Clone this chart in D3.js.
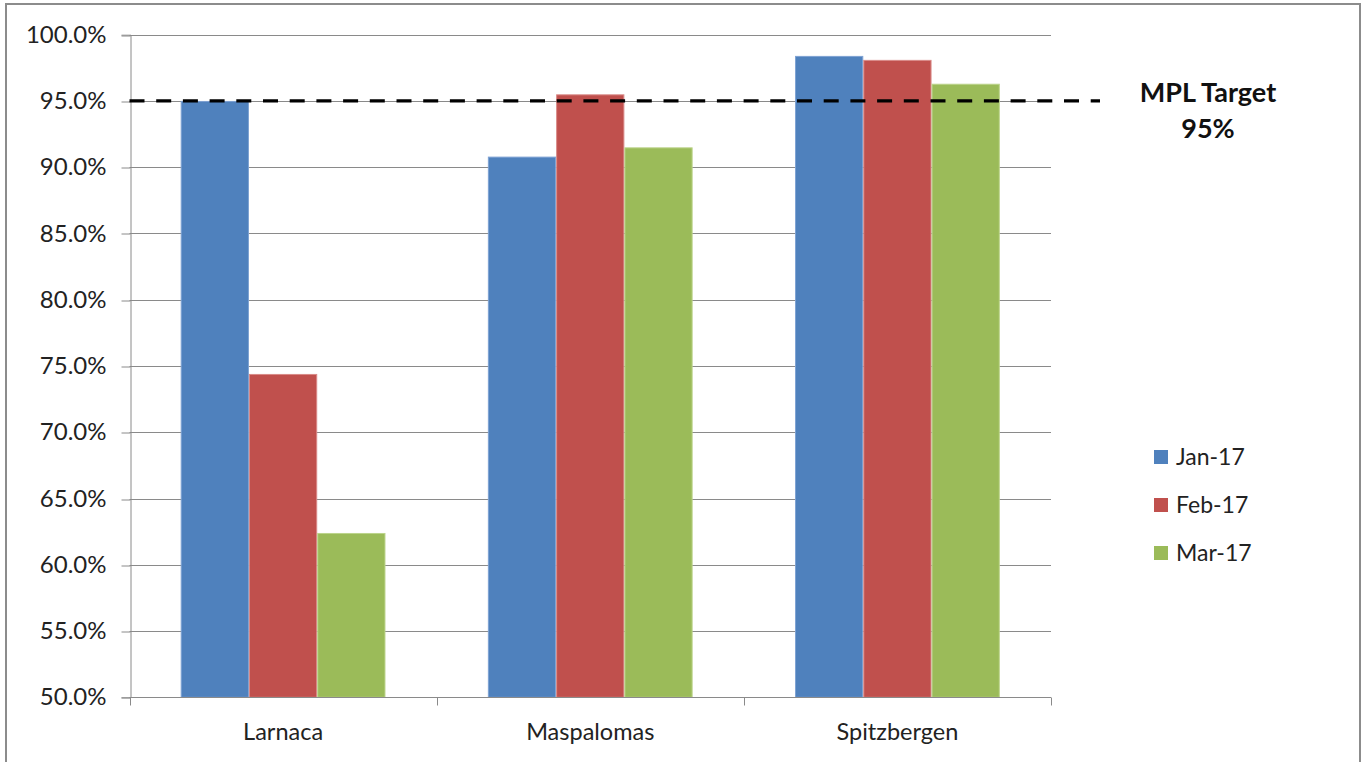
<!DOCTYPE html>
<html>
<head>
<meta charset="utf-8">
<script src="https://cdn.jsdelivr.net/npm/d3@7"></script>
<style>
  html, body { margin: 0; padding: 0; background: #fff; }
  svg { display: block; font-family: Lato, "Open Sans", sans-serif; }
</style>
</head>
<body>
<svg id="chart" width="1368" height="762"></svg>
<script>
// Availability per station, by month
const stations = ["Larnaca", "Maspalomas", "Spitzbergen"];
const months = ["Jan-17", "Feb-17", "Mar-17"];
const jan17 = [95.0, 90.8, 98.4];
const feb17 = [74.4, 95.5, 98.1];
const mar17 = [62.4, 91.5, 96.3];
const yTicks = [50, 55, 60, 65, 70, 75, 80, 85, 90, 95, 100];
const targetValue = 95;
const targetLabel = ["MPL Target", "95%"];

const colors = ["#4F81BD", "#C0504D", "#9BBB59"];
const edges = ["#7EA2D3", "#D98A88", "#BCD48B"];
const seriesValues = [jan17, feb17, mar17];

const svg = d3.select("#chart");

// outer frame
svg.append("rect")
  .attr("x", 6).attr("y", 4).attr("width", 1354).attr("height", 770)
  .attr("fill", "#fff").attr("stroke", "#8c8c8c").attr("stroke-width", 2);

const plot = { left: 129.5, right: 1051, top: 34.7, bottom: 697.3 };

const y = d3.scaleLinear().domain([50, 100]).range([plot.bottom, plot.top]);
const x0 = d3.scaleBand().domain(stations).range([plot.left, plot.right]).paddingInner(0).paddingOuter(0);
// Excel gap width 150% -> bar = band / (3 + 1.5)
const groupInner = x0.bandwidth() * 3 / 4.5;
const x1 = d3.scaleBand().domain(months)
  .range([(x0.bandwidth() - groupInner) / 2, (x0.bandwidth() + groupInner) / 2]);

// horizontal gridlines
svg.append("g").selectAll("line").data(yTicks.filter(t => t > 50)).join("line")
  .attr("x1", plot.left).attr("x2", plot.right)
  .attr("y1", d => Math.round(y(d)) + 0.5).attr("y2", d => Math.round(y(d)) + 0.5)
  .attr("stroke", "#8a8a8a").attr("stroke-width", 1);

// y axis
const yAxis = d3.axisLeft(y).tickValues(yTicks).tickSize(9).tickPadding(15)
  .tickFormat(d => d.toFixed(1) + "%");
const gy = svg.append("g").attr("transform", `translate(${Math.round(plot.left) + 0.5},0)`).call(yAxis);
gy.select(".domain").attr("stroke", "#8a8a8a");
gy.selectAll(".tick line").attr("stroke", "#8a8a8a")
  .attr("transform", d => `translate(0,${Math.round(y(d)) + 0.5 - y(d)})`);
gy.selectAll(".tick text").attr("font-size", 24).attr("fill", "#222")
  .attr("font-family", "Lato, 'Open Sans', sans-serif");

// bars
const groups = svg.append("g").selectAll("g").data(stations).join("g")
  .attr("transform", d => `translate(${x0(d)},0)`);
groups.selectAll("rect")
  .data((s, i) => months.map((m, j) => ({ m, j, v: seriesValues[j][i] })))
  .join("rect")
  .attr("x", d => x1(d.m) + 0.5)
  .attr("width", x1.bandwidth() - 1)
  .attr("y", d => y(d.v) + 0.5)
  .attr("height", d => y(50) - y(d.v) - 0.5)
  .attr("fill", d => colors[d.j])
  .attr("stroke", d => edges[d.j]).attr("stroke-width", 1);

// x axis
const xAxis = d3.axisBottom(x0).tickSize(0);
const gx = svg.append("g").attr("transform", `translate(0,${Math.round(plot.bottom) + 0.5})`).call(xAxis);
gx.select(".domain").attr("stroke", "#8a8a8a").attr("d", `M${plot.left},0H${plot.right}`);
gx.selectAll(".tick text").attr("font-size", 23.5).attr("fill", "#222")
  .attr("y", 42.5).attr("dy", 0)
  .attr("font-family", "Lato, 'Open Sans', sans-serif");
// category boundary ticks
gx.append("g").selectAll("line")
  .data(stations.map(s => x0(s)).concat([plot.right]))
  .join("line")
  .attr("x1", d => Math.round(d) + 0.5).attr("x2", d => Math.round(d) + 0.5)
  .attr("y1", 0).attr("y2", 8)
  .attr("stroke", "#8a8a8a");

// target line
svg.append("line")
  .attr("x1", plot.left).attr("x2", 1100)
  .attr("y1", y(targetValue)).attr("y2", y(targetValue))
  .attr("stroke", "#000").attr("stroke-width", 3.3)
  .attr("stroke-dasharray", "15 11.7");

svg.append("text")
  .attr("text-anchor", "middle").attr("font-weight", "bold").attr("font-size", 27)
  .attr("fill", "#111")
  .selectAll("tspan").data(targetLabel).join("tspan")
  .attr("x", 1208).attr("y", (d, i) => 102 + i * 36)
  .text(d => d);

// legend
const legend = svg.append("g").selectAll("g").data(months).join("g")
  .attr("transform", (d, i) => `translate(1154,${457 + i * 48})`);
legend.append("rect")
  .attr("x", 0).attr("y", -7).attr("width", 14).attr("height", 14)
  .attr("fill", (d, i) => colors[i]);
legend.append("text")
  .attr("x", 22).attr("y", 0).attr("dy", "0.35em")
  .attr("font-size", 23).attr("fill", "#222")
  .text(d => d);
</script>
</body>
</html>
